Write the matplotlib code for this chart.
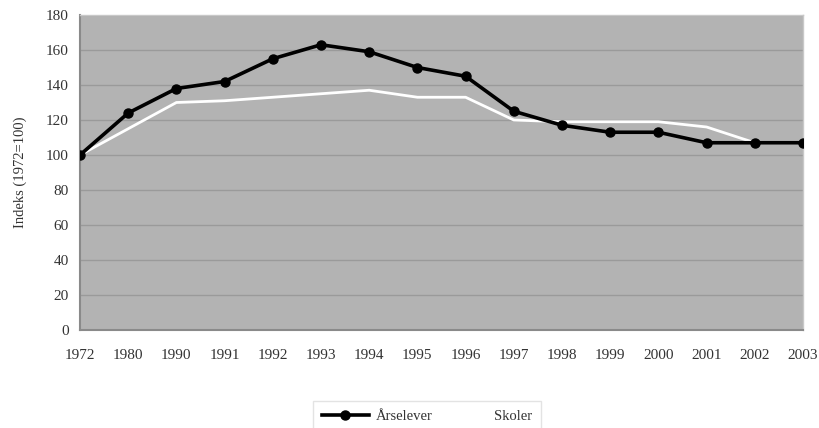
import matplotlib
matplotlib.use("Agg")
import matplotlib.pyplot as plt
import numpy as np

years = ["1972", "1980", "1990", "1991", "1992", "1993", "1994", "1995",
         "1996", "1997", "1998", "1999", "2000", "2001", "2002", "2003"]
arselever = [100, 124, 138, 142, 155, 163, 159, 150, 145, 125, 117, 113, 113, 107, 107, 107]
skoler = [100, 115, 130, 131, 133, 135, 137, 133, 133, 120, 119, 119, 119, 116, 107, 107]
y_ticks = [0, 20, 40, 60, 80, 100, 120, 140, 160, 180]

plt.rcParams["font.family"] = ["Liberation Serif", "DejaVu Serif"]

fig = plt.figure(figsize=(8.2, 4.28), dpi=100)
ax = fig.add_axes([80 / 820, 98 / 428, 723 / 820, 315 / 428])
ax.set_facecolor("#b3b3b3")

x = np.arange(len(years))
ax.plot(x, skoler, color="white", lw=2.0, label="Skoler", zorder=3)
ax.plot(x, arselever, color="black", lw=2.6, marker="o", ms=6.5,
        label="Årselever", zorder=4)

ax.set_xlim(0, len(years) - 1)
ax.set_ylim(0, 180)
ax.set_yticks(y_ticks)
ax.set_xticks(x)
ax.set_xticklabels(years)
ax.yaxis.grid(True, color="#9a9a9a", lw=1.0)
ax.set_axisbelow(True)
ax.tick_params(length=0, labelsize=11, colors="#333333", pad=8)
ax.tick_params(axis="x", pad=14)

for side in ["top", "right"]:
    ax.spines[side].set_color("#c8c8c8")
    ax.spines[side].set_linewidth(1.0)
for side in ["left", "bottom"]:
    ax.spines[side].set_color("#8a8a8a")
    ax.spines[side].set_linewidth(1.5)

ax.set_ylabel("Indeks (1972=100)", fontsize=10.5, color="#333333", labelpad=14)

handles, labels = ax.get_legend_handles_labels()
leg = fig.legend(handles[::-1], labels[::-1], loc="upper center",
                 bbox_to_anchor=(427 / 820, 34 / 428), ncol=2, frameon=True,
                 fancybox=False, edgecolor="#dddddd", fontsize=10.5,
                 handlelength=3.2, handletextpad=0.5, columnspacing=0.5,
                 borderpad=0.6)
leg.get_frame().set_linewidth(1.0)
for t in leg.get_texts():
    t.set_color("#333333")

fig.savefig("out.png", dpi=100, facecolor="white")
